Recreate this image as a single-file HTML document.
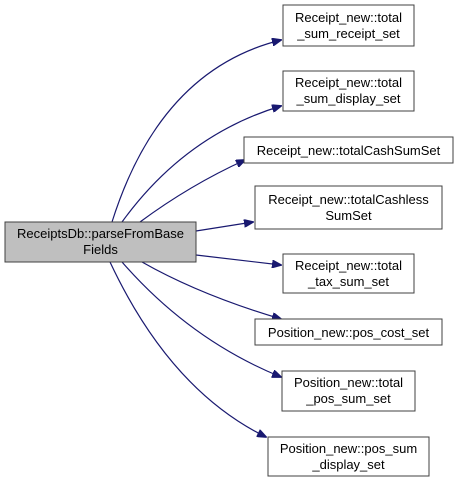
<!DOCTYPE html>
<html><head><style>
body{margin:0;background:#fff;}
svg text{font-family:"Liberation Sans",sans-serif;font-size:13px;fill:#000;}
</style></head><body>
<svg width="459" height="483" viewBox="0 0 459 483" xmlns="http://www.w3.org/2000/svg">
<defs><marker id="a" markerWidth="10" markerHeight="8" refX="9" refY="4" orient="auto" markerUnits="userSpaceOnUse"><path d="M0,0 L10,4 L0,8 Z" fill="#191970" stroke="#191970"/></marker></defs>
<g fill="none" stroke="#191970" stroke-width="1.2" marker-end="url(#a)">
<path d="M112,222 Q160,70 281,40"/>
<path d="M122,222 Q185,135 281,106"/>
<path d="M140,222 Q190,185 245,160"/>
<path d="M196,231 L253,222"/>
<path d="M196,255 L281,265"/>
<path d="M142,262 Q200,295 281,319"/>
<path d="M122,262 Q190,340 281,377"/>
<path d="M110,262 Q170,390 266,437"/>
</g>
<rect x="5" y="222" width="191" height="40" fill="#bfbfbf" stroke="#404040"/>
<text x="100.5" y="238" text-anchor="middle">ReceiptsDb::parseFromBase</text>
<text x="100.5" y="254" text-anchor="middle">Fields</text>
<g fill="#fff" stroke="#404040">
<rect x="283" y="5" width="131" height="41"/>
<rect x="283" y="71" width="131" height="40"/>
<rect x="244" y="137" width="209" height="26"/>
<rect x="255" y="186" width="187" height="43"/>
<rect x="283" y="254" width="131" height="39"/>
<rect x="255" y="319" width="187" height="26"/>
<rect x="282" y="371" width="133" height="40"/>
<rect x="268" y="437" width="161" height="39"/>
</g>
<g text-anchor="middle">
<text x="348.5" y="22">Receipt_new::total</text><text x="348.5" y="38">_sum_receipt_set</text>
<text x="348.5" y="87">Receipt_new::total</text><text x="348.5" y="103">_sum_display_set</text>
<text x="348.5" y="155">Receipt_new::totalCashSumSet</text>
<text x="348.5" y="204">Receipt_new::totalCashless</text><text x="348.5" y="220">SumSet</text>
<text x="348.5" y="270">Receipt_new::total</text><text x="348.5" y="286">_tax_sum_set</text>
<text x="348.5" y="337">Position_new::pos_cost_set</text>
<text x="348.5" y="387">Position_new::total</text><text x="348.5" y="403">_pos_sum_set</text>
<text x="348.5" y="453">Position_new::pos_sum</text><text x="348.5" y="469">_display_set</text>
</g>
</svg>
</body></html>
